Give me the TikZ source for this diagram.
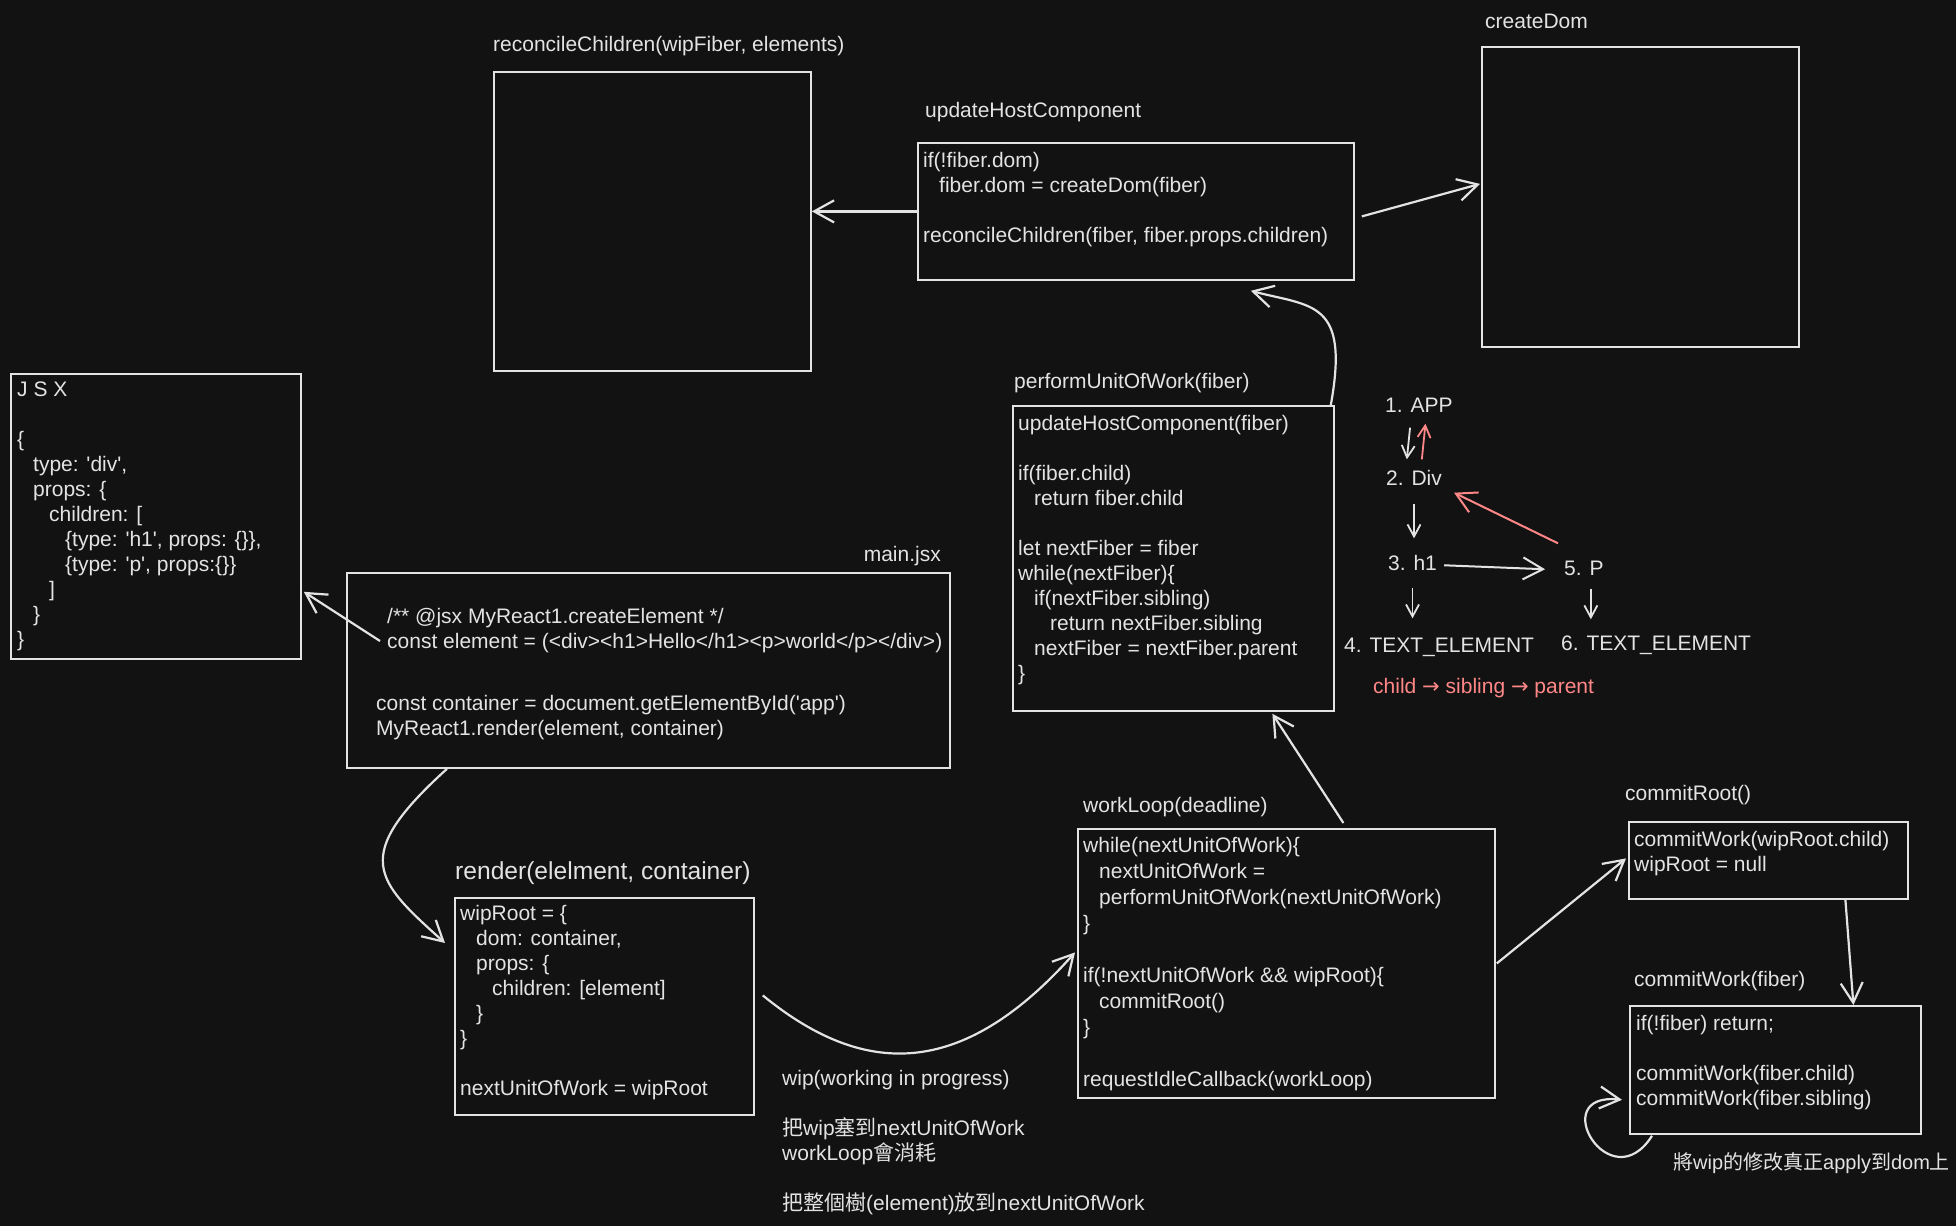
\documentclass[tikz,border=0pt]{standalone}
\usepackage{fontspec}
\setmainfont{Liberation Sans}
\newfontfamily\cjk{Noto Sans CJK TC}
\newfontfamily\symf{DejaVu Sans}
\usetikzlibrary{arrows.meta,positioning}
\definecolor{Night}{HTML}{121212}
\definecolor{Chalk}{HTML}{E3E3E3}
\definecolor{Coral}{HTML}{FF8787}
\newcommand\idt{\hspace*{16pt}}
\newcommand\apos{\textquotesingle}

\begin{document}
\begin{tikzpicture}[
    x=1pt,y=-1pt,
    box/.style={draw=Chalk,line width=1.8pt,anchor=north west,inner sep=0pt},
    code/.style={anchor=north west,align=left,inner sep=0pt,text=Chalk,yshift=-4pt,
      font=\fontsize{21}{25}\selectfont,execute at begin node=\strut},
    title/.style={anchor=west,inner sep=0pt,text=Chalk,
      font=\fontsize{21}{25}\selectfont,execute at begin node=\strut},
    arrow/.style={-{Straight Barb[length=20pt,width=22pt]},line width=2.2pt,draw=Chalk},
    tick/.style={-{Straight Barb[length=12pt,width=13pt]},line width=1.8pt,draw=Chalk}
]
\path[use as bounding box,fill=Night] (0,0) rectangle (1956,1226);

\node[box,minimum width=290,minimum height=285] (jsx) at (10,373) {};
\node[box,minimum width=317,minimum height=299] (reconcile) at (493,71) {};
\node[box,minimum width=436,minimum height=137] (update) at (917,142) {};
\node[box,minimum width=317,minimum height=300] (createdom) at (1481,46) {};
\node[box,minimum width=321,minimum height=305] (perform) at (1012,405) {};
\node[box,minimum width=603,minimum height=195] (mainjsx) at (346,572) {};
\node[box,minimum width=299,minimum height=217] (render) at (454,897) {};
\node[box,minimum width=417,minimum height=269] (workloop) at (1077,828) {};
\node[box,minimum width=279,minimum height=77] (commitroot) at (1628,821) {};
\node[box,minimum width=291,minimum height=128] (commitwork) at (1629,1005) {};

\node[title] (reconcilelbl) at (493,46) {reconcileChildren(wipFiber, elements)};
\node[title] (updatelbl) at (925,112) {updateHostComponent};
\node[title] (createdomlbl) at (1485,23) {createDom};
\node[title] (performlbl) at (1014,383) {performUnitOfWork(fiber)};
\node[title,anchor=east] (mainlbl) at (941,556) {main.jsx};
\node[title,font=\fontsize{24.6}{30}\selectfont] (renderlbl) at (455,873) {render(elelment, container)};
\node[title] (workooplbl) at (1083,807) {workLoop(deadline)};
\node[title] (commitrootlbl) at (1625,795) {commitRoot()};
\node[title] (commitworklbl) at (1634,981) {commitWork(fiber)};

\node[code] (jsxcode) at (17,378) {J S X\\ \\ \{\\ \idt type: \apos div\apos,\\ \idt props: \{\\
  \idt\idt children: [\\ \idt\idt\idt \{type: \apos h1\apos, props: \{\}\},\\
  \idt\idt\idt \{type: \apos p\apos, props:\{\}\}\\ \idt\idt ]\\ \idt \}\\ \}};
\node[code] (mainjsxtop) at (387,604) {/** @jsx MyReact1.createElement */\\
  const element = (<div><h1>Hello</h1><p>world</p></div>)};
\node[code] (mainjsxbot) at (376,691) {const container = document.getElementById(\apos app\apos)\\
  MyReact1.render(element, container)};
\node[code] (updatecode) at (923,148) {if(!fiber.dom)\\ \idt fiber.dom = createDom(fiber)\\ \\
  reconcileChildren(fiber, fiber.props.children)};
\node[code] (performcode) at (1018,411) {updateHostComponent(fiber)\\ \\ if(fiber.child)\\
  \idt return fiber.child\\ \\ let nextFiber = fiber\\ while(nextFiber)\{\\
  \idt if(nextFiber.sibling)\\ \idt\idt return nextFiber.sibling\\
  \idt nextFiber = nextFiber.parent\\ \}};
\node[code] (rendercode) at (460,901) {wipRoot = \{\\ \idt dom: container,\\ \idt props: \{\\
  \idt\idt children: [element]\\ \idt \}\\ \}\\ \\ nextUnitOfWork = wipRoot};
\node[code,font=\fontsize{21}{26}\selectfont] (workloopcode) at (1083,833) {while(nextUnitOfWork)\{\\ \idt nextUnitOfWork =\\
  \idt performUnitOfWork(nextUnitOfWork)\\ \}\\ \\ if(!nextUnitOfWork \&\& wipRoot)\{\\
  \idt commitRoot()\\ \}\\ \\ requestIdleCallback(workLoop)};
\node[code] (commitrootcode) at (1634,827) {commitWork(wipRoot.child)\\ wipRoot = null};
\node[code] (commitworkcode) at (1636,1011) {if(!fiber) return;\\ \\ commitWork(fiber.child)\\
  commitWork(fiber.sibling)};

\node[code] (wipnote) at (782,1066) {wip(working in progress)\\ \\
  {\cjk 把}wip{\cjk 塞到}nextUnitOfWork\\ workLoop{\cjk 會消耗}\\ \\
  {\cjk 把整個樹}(element){\cjk 放到}nextUnitOfWork};
\node[title,font=\fontsize{20}{25}\selectfont] (applynote) at (1673,1164) {{\cjk 將}wip{\cjk 的修改真正}apply{\cjk 到}dom{\cjk 上}};

\node[title] (app) at (1385,407) {1. APP};
\node[title] (div) at (1386,480) {2. Div};
\node[title] (h1) at (1388,565) {3. h1};
\node[title] (p) at (1564,570) {5. P};
\node[title] (txtA) at (1344,647) {4. TEXT\_ELEMENT};
\node[title] (txtB) at (1561,645) {6. TEXT\_ELEMENT};
\node[title,text=Coral] (order) at (1373,688) {child {\symf →} sibling {\symf →} parent};

\draw[arrow] (update.west) -- (update.west -| reconcile.east);
\draw[arrow] ([shift={(7,5)}]update.east) -- ([shift={(-1,-13)}]createdom.west);
\draw[arrow] ([xshift=-4pt]perform.north east) .. controls +(19,-105) and +(61,16) .. ([shift={(-104,10)}]update.south east);
\draw[arrow] ([shift={(34,69)}]mainjsx.north west) -- ([shift={(2,-68)}]jsx.south east);
\draw[arrow] ([xshift=101pt]mainjsx.south west) .. controls +(-97,88) and +(-70,-63) .. ([shift={(-9,46)}]render.north west);
\draw[arrow] ([shift={(8,-11)}]render.east) .. controls +(99,81) and +(-115,129) .. ([shift={(-2,-11)}]workloop.west);
\draw[arrow] ([shift={(57,-5)}]workloop.north) -- ([shift={(99,2)}]perform.south);
\draw[arrow] ([xshift=1pt]workloop.east) -- ([shift={(-2,-2)}]commitroot.west);
\draw[arrow] ([xshift=77pt]commitroot.south) -- ([xshift=78pt]commitwork.north);
\draw[arrow] ([shift={(23,1)}]commitwork.south west) .. controls +(-42,66) and +(-77,-8) .. ([shift={(-7,-35)}]commitwork.south west);

\draw[tick,shorten <=8pt,shorten >=8pt] ([xshift=-8pt]app.south) -- ([xshift=-8pt]div.north);
\draw[tick,draw=Coral,shorten <=8pt,shorten >=4pt] ([xshift=7pt]div.north) -- ([xshift=7pt]app.south);
\draw[tick,shorten <=11pt,shorten >=14pt] (div.south) -- (div.south |- h1.north);
\draw[arrow,line width=2pt,shorten <=7pt,shorten >=19pt] (h1.east) -- (p.west);
\draw[arrow,draw=Coral,line width=2pt] ([shift={(-6,-14)}]p.north west) -- ([xshift=12pt]div.south east);
\draw[tick,shorten <=10pt,shorten >=16pt] (h1.south) -- (h1.south |- txtA.north);
\draw[tick,shorten <=6pt,shorten >=13pt] ([xshift=7pt]p.south) -- ([xshift=7pt]p.south |- txtB.north);
\end{tikzpicture}
\end{document}
